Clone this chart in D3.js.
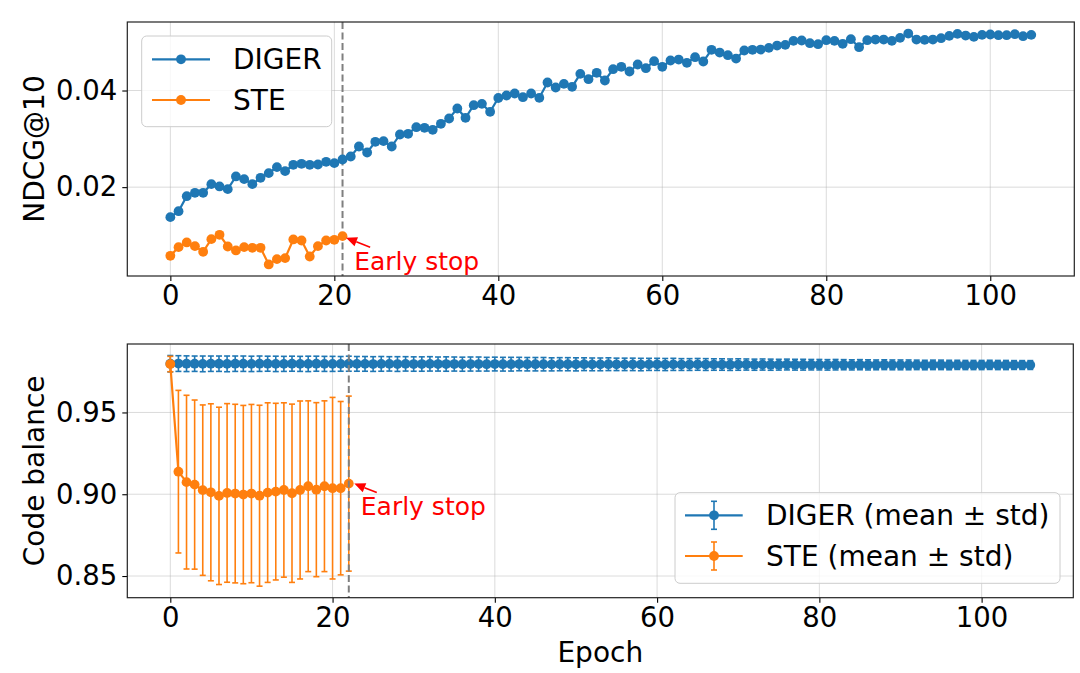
<!DOCTYPE html>
<html><head><meta charset="utf-8">
<script src="https://cdn.jsdelivr.net/npm/d3@7"></script>
<style>body{margin:0;background:#fff} text{font-family:"DejaVu Sans",sans-serif}</style>
</head><body><svg id="c" width="1080" height="673"></svg>
<script>
// ---------- DATA ----------
const digerNdcg = [
0.01379,0.01503,0.01813,0.01883,0.01883,0.02062,0.02014,0.01959,0.02221,0.02166,
0.02062,0.02193,0.02290,0.02414,0.02331,0.02462,0.02483,0.02462,0.02469,0.02524,
0.02497,0.02572,0.02634,0.02841,0.02717,0.02938,0.02952,0.02841,0.03090,0.03104,
0.03241,0.03228,0.03187,0.03311,0.03421,0.03628,0.03435,0.03696,0.03724,0.03559,
0.03845,0.03897,0.03938,0.03862,0.03938,0.03849,0.04166,0.04062,0.04138,0.04076,
0.04345,0.04234,0.04366,0.04207,0.04441,0.04490,0.04393,0.04538,0.04462,0.04607,
0.04490,0.04621,0.04641,0.04573,0.04690,0.04600,0.04842,0.04786,0.04731,0.04662,
0.04828,0.04842,0.04848,0.04883,0.04931,0.04945,0.05028,0.05035,0.04979,0.04958,
0.05041,0.05028,0.04966,0.05062,0.04897,0.05041,0.05055,0.05055,0.05028,0.05090,
0.05179,0.05055,0.05048,0.05055,0.05083,0.05131,0.05172,0.05138,0.05110,0.05152,
0.05159,0.05145,0.05145,0.05166,0.05124,0.05152];
const steNdcg = [
0.00579,0.00758,0.00855,0.00779,0.00662,0.00924,0.01014,0.00772,0.00690,0.00758,
0.00745,0.00745,0.00400,0.00510,0.00531,0.00917,0.00896,0.00565,0.00779,0.00896,
0.00910,0.00986];
const digerBalMean = [
0.9798,0.9799,0.9798,0.9798,0.9797,0.9798,0.9798,0.9797,0.9798,0.9798,
0.9797,0.9798,0.9798,0.9797,0.9797,0.9798,0.9797,0.9797,0.9798,0.9797,
0.9797,0.9797,0.9798,0.9797,0.9797,0.9796,0.9797,0.9797,0.9796,0.9797,
0.9796,0.9796,0.9797,0.9796,0.9796,0.9796,0.9795,0.9796,0.9796,0.9795,
0.9796,0.9795,0.9795,0.9796,0.9795,0.9795,0.9795,0.9794,0.9795,0.9795,
0.9794,0.9795,0.9794,0.9794,0.9795,0.9794,0.9794,0.9794,0.9793,0.9794,
0.9794,0.9793,0.9794,0.9793,0.9793,0.9794,0.9793,0.9793,0.9793,0.9792,
0.9793,0.9793,0.9792,0.9793,0.9792,0.9792,0.9793,0.9792,0.9792,0.9792,
0.9792,0.9791,0.9792,0.9792,0.9791,0.9792,0.9791,0.9791,0.9792,0.9791,
0.9791,0.9791,0.9791,0.9790,0.9791,0.9791,0.9790,0.9791,0.9790,0.9790,
0.9790,0.9791,0.9790,0.9790,0.9790,0.9790,0.9790];
const digerBalStd = [
0.0050,0.0048,0.0048,0.0047,0.0048,0.0047,0.0047,0.0048,0.0047,0.0047,
0.0047,0.0047,0.0046,0.0047,0.0046,0.0046,0.0046,0.0047,0.0046,0.0046,
0.0046,0.0045,0.0046,0.0045,0.0045,0.0045,0.0045,0.0044,0.0045,0.0044,
0.0044,0.0044,0.0044,0.0043,0.0044,0.0043,0.0043,0.0043,0.0043,0.0042,
0.0042,0.0042,0.0042,0.0041,0.0041,0.0041,0.0041,0.0040,0.0040,0.0040,
0.0040,0.0039,0.0039,0.0039,0.0039,0.0038,0.0038,0.0038,0.0038,0.0037,
0.0037,0.0037,0.0037,0.0036,0.0036,0.0036,0.0036,0.0035,0.0035,0.0035,
0.0035,0.0034,0.0034,0.0034,0.0034,0.0033,0.0033,0.0033,0.0033,0.0032,
0.0032,0.0032,0.0032,0.0031,0.0031,0.0031,0.0031,0.0030,0.0030,0.0030,
0.0030,0.0030,0.0029,0.0029,0.0029,0.0029,0.0029,0.0028,0.0028,0.0028,
0.0028,0.0028,0.0028,0.0028,0.0027,0.0027,0.0027];
const steBalMean = [
0.9796,0.9138,0.9074,0.9059,0.9025,0.9012,0.8990,0.9008,0.9004,0.8998,
0.9004,0.8991,0.9010,0.9016,0.9026,0.9006,0.9026,0.9049,0.9028,0.9049,
0.9037,0.9037,0.9065];
const steBalStd = [
0.0047,0.0497,0.0531,0.0517,0.0521,0.0541,0.0542,0.0546,0.0546,0.0545,
0.0545,0.0553,0.0549,0.0540,0.0533,0.0545,0.0544,0.0522,0.0532,0.0522,
0.0555,0.0530,0.0535];
const xTicks = [0,20,40,60,80,100];
const yTicksTop = [0.02,0.04];
const yTicksBottom = [0.85,0.90,0.95];
const earlyStopTop = 21, earlyStopBottom = 22;
const legendTop = ["DIGER","STE"];
const legendBottom = ["DIGER (mean \u00b1 std)","STE (mean \u00b1 std)"];

// ---------- STYLE ----------
const C1 = "#1f77b4", C2 = "#ff7f0e";
const FS = 27.5, FSL = 28, R = 4.9, LW = 2.2;
const svg = d3.select("#c");

function padExt(lo, hi){ const d = hi-lo; return [lo-0.05*d, hi+0.05*d]; }

function panel(box, xMax, yLo, yHi, yTicks, yFmt, ylabel){
  const x = d3.scaleLinear().domain(padExt(0,xMax)).range([box.l, box.r]);
  const y = d3.scaleLinear().domain(padExt(yLo,yHi)).range([box.b, box.t]);
  const g = svg.append("g");
  g.selectAll(".gx").data(xTicks).join("line")
    .attr("x1",d=>x(d)).attr("x2",d=>x(d)).attr("y1",box.t).attr("y2",box.b)
    .attr("stroke","#b0b0b0").attr("stroke-opacity",0.45).attr("stroke-width",1);
  g.selectAll(".gy").data(yTicks).join("line")
    .attr("y1",d=>y(d)).attr("y2",d=>y(d)).attr("x1",box.l).attr("x2",box.r)
    .attr("stroke","#b0b0b0").attr("stroke-opacity",0.45).attr("stroke-width",1);
  const ax = g.append("g").attr("transform",`translate(0,${box.b})`)
    .call(d3.axisBottom(x).tickValues(xTicks).tickSize(5).tickPadding(4.5).tickFormat(d3.format("d")));
  const ay = g.append("g").attr("transform",`translate(${box.l},0)`)
    .call(d3.axisLeft(y).tickValues(yTicks).tickSize(5).tickPadding(5).tickFormat(yFmt));
  [ax,ay].forEach(a=>{
    a.select(".domain").remove();
    a.selectAll("text").attr("font-size",FS).attr("font-family","DejaVu Sans").attr("fill","#000");
    a.selectAll("line").attr("stroke","#000").attr("stroke-width",1.1);
  });
  g.append("text").attr("transform",`translate(44,${(box.t+box.b)/2}) rotate(-90)`)
    .attr("text-anchor","middle").attr("font-size",FSL).text(ylabel);
  return {x,y,g};
}

function frame(box){
  svg.append("rect").attr("x",box.l).attr("y",box.t).attr("width",box.r-box.l).attr("height",box.b-box.t)
    .attr("fill","none").attr("stroke","#222").attr("stroke-width",1.2);
}

function arrow(g, x1,y1,x2,y2){
  const ang = Math.atan2(y2-y1,x2-x1), L = 11, W = 4.8;
  const bx = x2 - L*Math.cos(ang), by = y2 - L*Math.sin(ang);
  g.append("line").attr("x1",x1).attr("y1",y1).attr("x2",bx).attr("y2",by)
    .attr("stroke","red").attr("stroke-width",1.6);
  const px = -Math.sin(ang)*W, py = Math.cos(ang)*W;
  g.append("path").attr("d",`M${x2},${y2}L${bx+px},${by+py}L${bx-px},${by-py}Z`).attr("fill","red");
}

function dashed(g, x, box){
  g.append("line").attr("x1",x).attr("x2",x).attr("y1",box.t).attr("y2",box.b)
    .attr("stroke","#7f7f7f").attr("stroke-width",2).attr("stroke-dasharray","7,3.5");
}

// ---------- TOP PANEL ----------
const boxT = {l:127.3, r:1074.3, t:22, b:276};
const allTop = digerNdcg.concat(steNdcg);
const T = panel(boxT, digerNdcg.length-1, d3.min(allTop), d3.max(allTop), yTicksTop, d3.format(".2f"), "NDCG@10");
const lineT = d3.line().x((d,i)=>T.x(i)).y(d=>T.y(d));
dashed(T.g, T.x(earlyStopTop), boxT);
[[digerNdcg,C1],[steNdcg,C2]].forEach(([arr,c])=>{
  T.g.append("path").attr("d",lineT(arr)).attr("fill","none").attr("stroke",c).attr("stroke-width",LW);
  T.g.selectAll(null).data(arr).join("circle").attr("cx",(d,i)=>T.x(i)).attr("cy",d=>T.y(d)).attr("r",R).attr("fill",c);
});
{
  const px = T.x(earlyStopTop), py = T.y(steNdcg[earlyStopTop]);
  arrow(T.g, px+27.6, py+11, px+3.5, py+1.6);
  T.g.append("text").attr("x",px+11.6).attr("y",py+33.6).attr("fill","red").attr("font-size",25).text("Early stop");
}
frame(boxT);
{
  const lg = svg.append("g");
  lg.append("rect").attr("x",141.7).attr("y",36).attr("width",190).attr("height",90.7).attr("rx",5)
    .attr("fill","#fff").attr("fill-opacity",0.8).attr("stroke","#cccccc").attr("stroke-width",1);
  [C1,C2].forEach((c,k)=>{
    const yy = [59.3,100][k];
    lg.append("line").attr("x1",152).attr("x2",210).attr("y1",yy).attr("y2",yy).attr("stroke",c).attr("stroke-width",LW);
    lg.append("circle").attr("cx",181).attr("cy",yy).attr("r",R).attr("fill",c);
    lg.append("text").attr("x",233).attr("y",yy+10).attr("font-size",FSL).text(legendTop[k]);
  });
}

// ---------- BOTTOM PANEL ----------
const boxB = {l:127.3, r:1073.3, t:344, b:597.7};
const lows = digerBalMean.map((m,i)=>m-digerBalStd[i]).concat(steBalMean.map((m,i)=>m-steBalStd[i]));
const highs = digerBalMean.map((m,i)=>m+digerBalStd[i]).concat(steBalMean.map((m,i)=>m+steBalStd[i]));
const B = panel(boxB, digerBalMean.length-1, d3.min(lows), d3.max(highs), yTicksBottom, d3.format(".2f"), "Code balance");
const lineB = d3.line().x((d,i)=>B.x(i)).y(d=>B.y(d));
[[digerBalMean,digerBalStd,C1],[steBalMean,steBalStd,C2]].forEach(([arr,sd,c])=>{
  const eg = B.g.append("g").attr("stroke",c).attr("stroke-width",1.6);
  arr.forEach((m,i)=>{
    const xx = B.x(i), y1 = B.y(m+sd[i]), y2 = B.y(m-sd[i]);
    eg.append("line").attr("x1",xx).attr("x2",xx).attr("y1",y1).attr("y2",y2);
    eg.append("line").attr("x1",xx-3).attr("x2",xx+3).attr("y1",y1).attr("y2",y1);
    eg.append("line").attr("x1",xx-3).attr("x2",xx+3).attr("y1",y2).attr("y2",y2);
  });
  B.g.append("path").attr("d",lineB(arr)).attr("fill","none").attr("stroke",c).attr("stroke-width",LW);
  B.g.selectAll(null).data(arr).join("circle").attr("cx",(d,i)=>B.x(i)).attr("cy",d=>B.y(d)).attr("r",R).attr("fill",c);
});
dashed(B.g, B.x(earlyStopBottom), boxB);
{
  const px = B.x(earlyStopBottom), py = B.y(steBalMean[earlyStopBottom]);
  arrow(B.g, px+28, py+9, px+5.5, py);
  B.g.append("text").attr("x",px+12).attr("y",py+31.6).attr("fill","red").attr("font-size",25).text("Early stop");
}
frame(boxB);
svg.append("text").attr("x",(boxB.l+boxB.r)/2).attr("y",662).attr("text-anchor","middle").attr("font-size",FSL).text("Epoch");
{
  const lg = svg.append("g");
  lg.append("rect").attr("x",675).attr("y",492.7).attr("width",385).attr("height",90.6).attr("rx",5)
    .attr("fill","#fff").attr("fill-opacity",0.8).attr("stroke","#cccccc").attr("stroke-width",1);
  [C1,C2].forEach((c,k)=>{
    const yy = [515.3,556][k];
    lg.append("line").attr("x1",685).attr("x2",742.7).attr("y1",yy).attr("y2",yy).attr("stroke",c).attr("stroke-width",LW);
    lg.append("line").attr("x1",714).attr("x2",714).attr("y1",yy-14).attr("y2",yy+14).attr("stroke",c).attr("stroke-width",1.6);
    lg.append("line").attr("x1",711).attr("x2",717).attr("y1",yy-14).attr("y2",yy-14).attr("stroke",c).attr("stroke-width",1.6);
    lg.append("line").attr("x1",711).attr("x2",717).attr("y1",yy+14).attr("y2",yy+14).attr("stroke",c).attr("stroke-width",1.6);
    lg.append("circle").attr("cx",714).attr("cy",yy).attr("r",R).attr("fill",c);
    lg.append("text").attr("x",766).attr("y",yy+10).attr("font-size",FSL).text(legendBottom[k]);
  });
}
</script></body></html>
